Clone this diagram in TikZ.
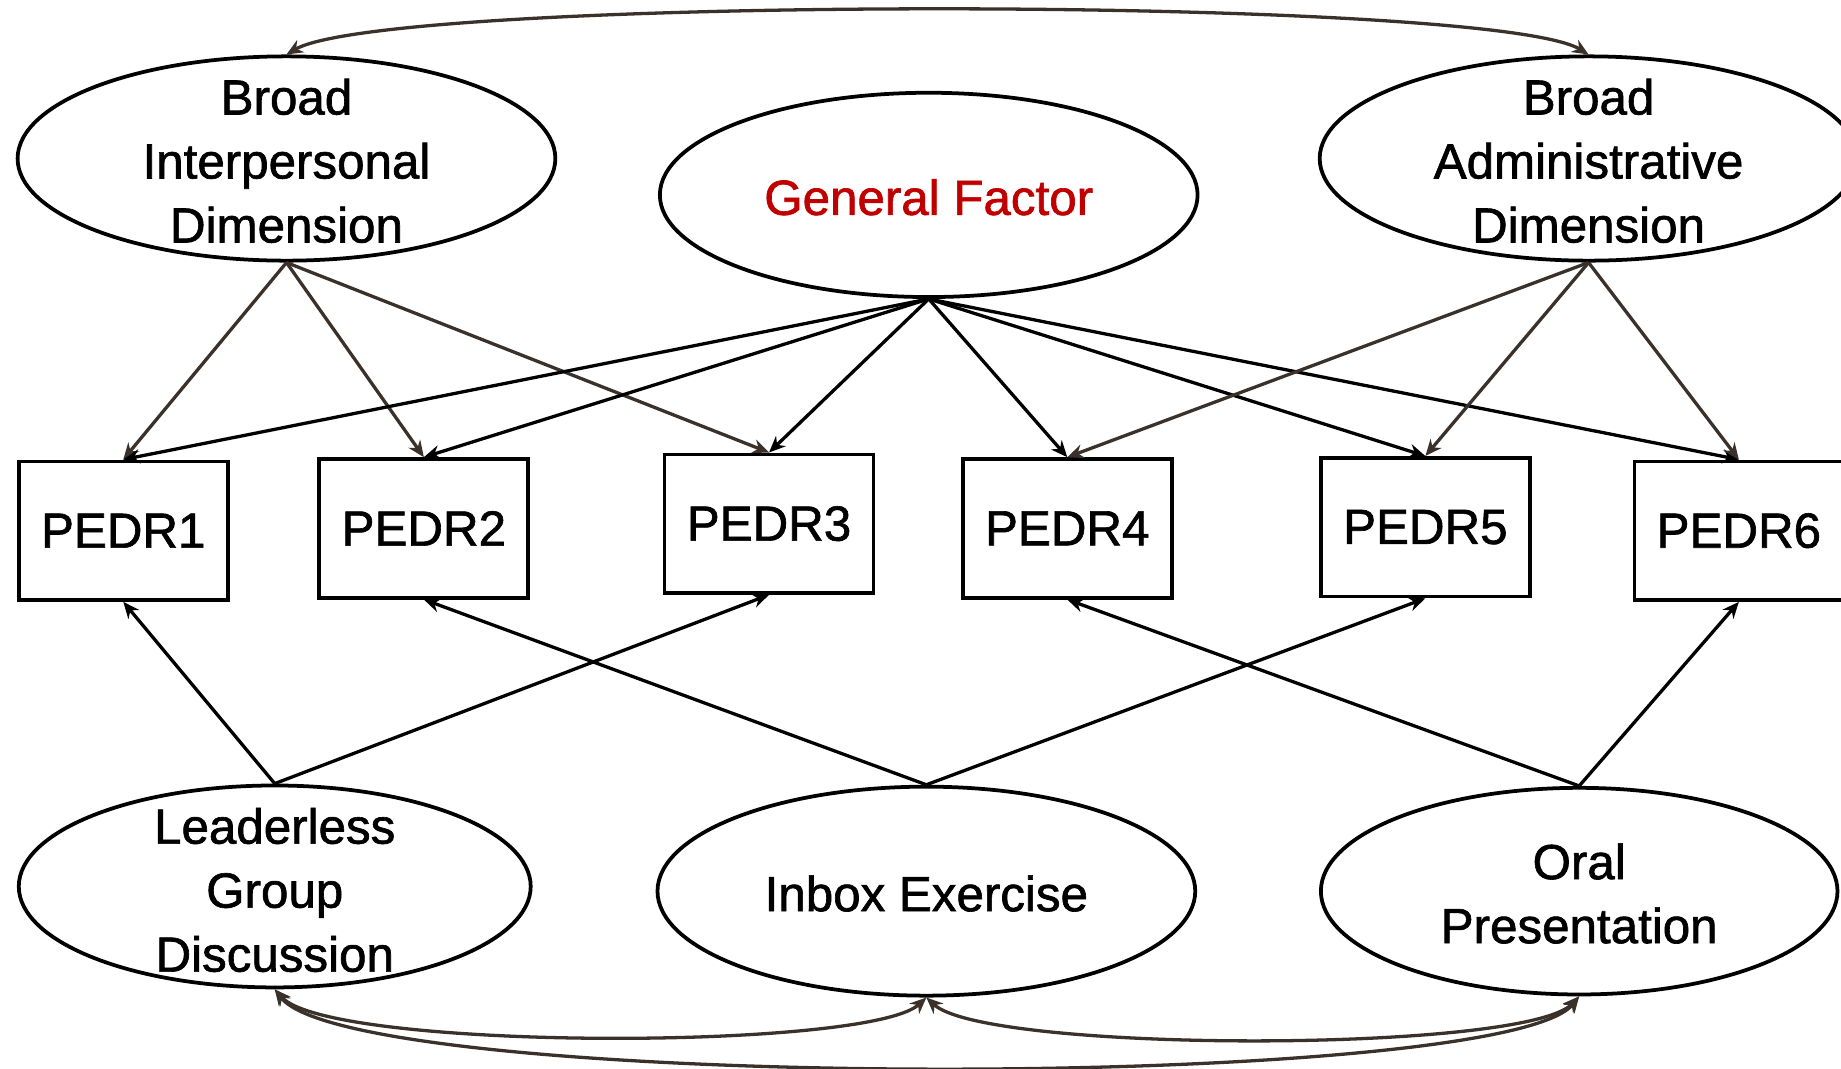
\documentclass[tikz,border=0pt]{standalone}
\usepackage{fontspec}
\setmainfont[FakeBold=1.3]{Liberation Sans}
\usetikzlibrary{arrows.meta,shapes.geometric}
\definecolor{gfred}{HTML}{C00000}
\definecolor{lnbrown}{HTML}{3B312B}
\begin{document}
\begin{tikzpicture}[x=0.5pt,y=-0.5pt,
  latent/.style={ellipse,draw,line width=1.6pt,minimum width=229pt,minimum height=87pt,inner sep=0pt},
  lbl/.style={align=center,font=\fontsize{21}{27.25}\selectfont,inner sep=0pt},
  obs/.style={rectangle,draw,line width=1.6pt,minimum width=89pt,minimum height=59pt,inner sep=0pt,font=\fontsize{21}{25}\selectfont},
  load/.style={line width=1.4pt,-{Stealth[length=7pt,width=6pt]}},
  bload/.style={load,draw=lnbrown},
  cov/.style={line width=1.4pt,draw=lnbrown,{Stealth[length=7pt,width=6pt]}-{Stealth[length=7pt,width=6pt]}}
]
\useasboundingbox (0,0) rectangle (1568,910);
\fill[white] (0,0) rectangle (1568,910);
% latent factors
\node[latent] (BI) at (244,135) {};
\node[lbl] (BIt) at (244,137) {Broad\\Interpersonal\\Dimension};
\node[latent] (GF) at (791,166) {};
\node[lbl,text=gfred] (GFt) at (791,168) {General Factor};
\node[latent] (BA) at (1353,135) {};
\node[lbl] (BAt) at (1353,137) {Broad\\Administrative\\Dimension};
% observed
\node[obs] (P1) at (105,452) {PEDR1};
\node[obs] (P2) at (361,450) {PEDR2};
\node[obs] (P3) at (655,446) {PEDR3};
\node[obs] (P4) at (909,450) {PEDR4};
\node[obs] (P5) at (1214,449) {PEDR5};
\node[obs] (P6) at (1481,452) {PEDR6};
% method factors
\node[latent,minimum width=218pt,minimum height=86pt] (LGD) at (234,755) {};
\node[lbl] (LGDt) at (234,758) {Leaderless\\Group\\Discussion};
\node[latent,minimum width=229pt,minimum height=89pt] (IE) at (789,759) {};
\node[lbl] (IEt) at (789,761) {Inbox Exercise};
\node[latent,minimum width=220pt,minimum height=88pt] (OP) at (1345,759) {};
\node[lbl] (OPt) at (1345,761) {Oral\\Presentation};
% loadings
\draw[bload] (BI.south) -- (P1.north);
\draw[bload] (BI.south) -- (P2.north);
\draw[bload] (BI.south) -- (P3.north);
\draw[load] (GF.south) -- (P1.north);
\draw[load] (GF.south) -- (P2.north);
\draw[load] (GF.south) -- (P3.north);
\draw[load] (GF.south) -- (P4.north);
\draw[load] (GF.south) -- (P5.north);
\draw[load] (GF.south) -- (P6.north);
\draw[bload] (BA.south) -- (P4.north);
\draw[bload] (BA.south) -- (P5.north);
\draw[bload] (BA.south) -- (P6.north);
\draw[load] (LGD.north) -- (P1.south);
\draw[load] (LGD.north) -- (P3.south);
\draw[load] (IE.north) -- (P2.south);
\draw[load] (IE.north) -- (P5.south);
\draw[load] (OP.north) -- (P4.south);
\draw[load] (OP.north) -- (P6.south);
% covariances
\draw[cov] (BI.north) .. controls (330,-4) and (1270,-4) .. (BA.north);
\draw[cov] (LGD.south) .. controls (280,895) and (740,895) .. (IE.south);
\draw[cov] (IE.south) .. controls (840,897) and (1300,897) .. (OP.south);
\draw[cov] (LGD.south) .. controls (300,930) and (1280,930) .. (OP.south);
\end{tikzpicture}
\end{document}
